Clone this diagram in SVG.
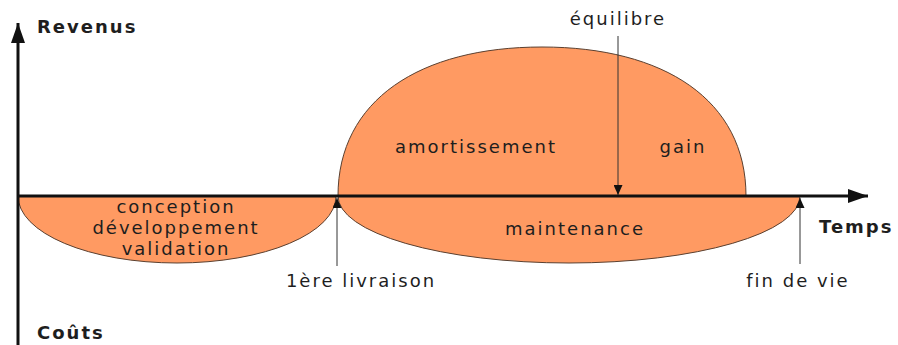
<svg xmlns="http://www.w3.org/2000/svg" width="898" height="345" viewBox="0 0 898 345">
<style>
.lobe{fill:#ff9a62;stroke:#5a4030;stroke-width:1}
.t{font-family:"DejaVu Sans",sans-serif;font-size:18px;letter-spacing:2px;fill:#1e1e1e}
.b{font-family:"DejaVu Sans",sans-serif;font-size:18px;font-weight:bold;letter-spacing:2px;fill:#1e1e1e}
.axis{stroke:#111;stroke-width:3;fill:none}
.pin{stroke:#333;stroke-width:1;fill:none}
</style>
<defs>
<marker id="big" markerWidth="20" markerHeight="14" refX="20" refY="7" orient="auto" markerUnits="userSpaceOnUse">
<path d="M0,0 L20,7 L0,14 Z" fill="#111"/>
</marker>
<marker id="small" markerWidth="10" markerHeight="9" refX="10" refY="4.5" orient="auto" markerUnits="userSpaceOnUse">
<path d="M0,0 L10,4.5 L0,9 Z" fill="#111"/>
</marker>
</defs>
<g id="conception">
<path class="lobe" d="M18,196 A159,67 0 0 0 336,196 Z"/>
<text class="t" x="176" y="213" text-anchor="middle">conception</text>
<text class="t" x="176" y="234" text-anchor="middle">développement</text>
<text class="t" x="176" y="255" text-anchor="middle">validation</text>
</g>
<g id="maintenance">
<path class="lobe" d="M338,196 A231,67 0 0 0 800,196 Z"/>
<text class="t" x="575" y="235" text-anchor="middle">maintenance</text>
</g>
<g id="revenus-lobe">
<path class="lobe" d="M338,196 C338,100 420,47 542,47 C664,47 746,100 746,196 Z"/>
<text class="t" x="476" y="153" text-anchor="middle">amortissement</text>
<text class="t" x="683" y="153" text-anchor="middle">gain</text>
</g>
<g id="connectors">
<line class="axis" x1="18" y1="345" x2="18" y2="23" marker-end="url(#big)"/>
<line class="axis" x1="18" y1="196" x2="868" y2="196" marker-end="url(#big)"/>
<line class="pin" x1="337" y1="266" x2="337" y2="198" marker-end="url(#small)"/>
<line class="pin" x1="800" y1="264" x2="800" y2="198" marker-end="url(#small)"/>
<line class="pin" x1="618" y1="36" x2="618" y2="195" marker-end="url(#small)"/>
</g>
<g id="labels">
<text class="b" x="37" y="33">Revenus</text>
<text class="b" x="37" y="339">Coûts</text>
<text class="b" x="819" y="233">Temps</text>
<text class="t" x="618" y="25" text-anchor="middle">équilibre</text>
<text class="t" x="361" y="287" text-anchor="middle">1ère livraison</text>
<text class="t" x="798" y="287" text-anchor="middle">fin de vie</text>
</g>
</svg>
